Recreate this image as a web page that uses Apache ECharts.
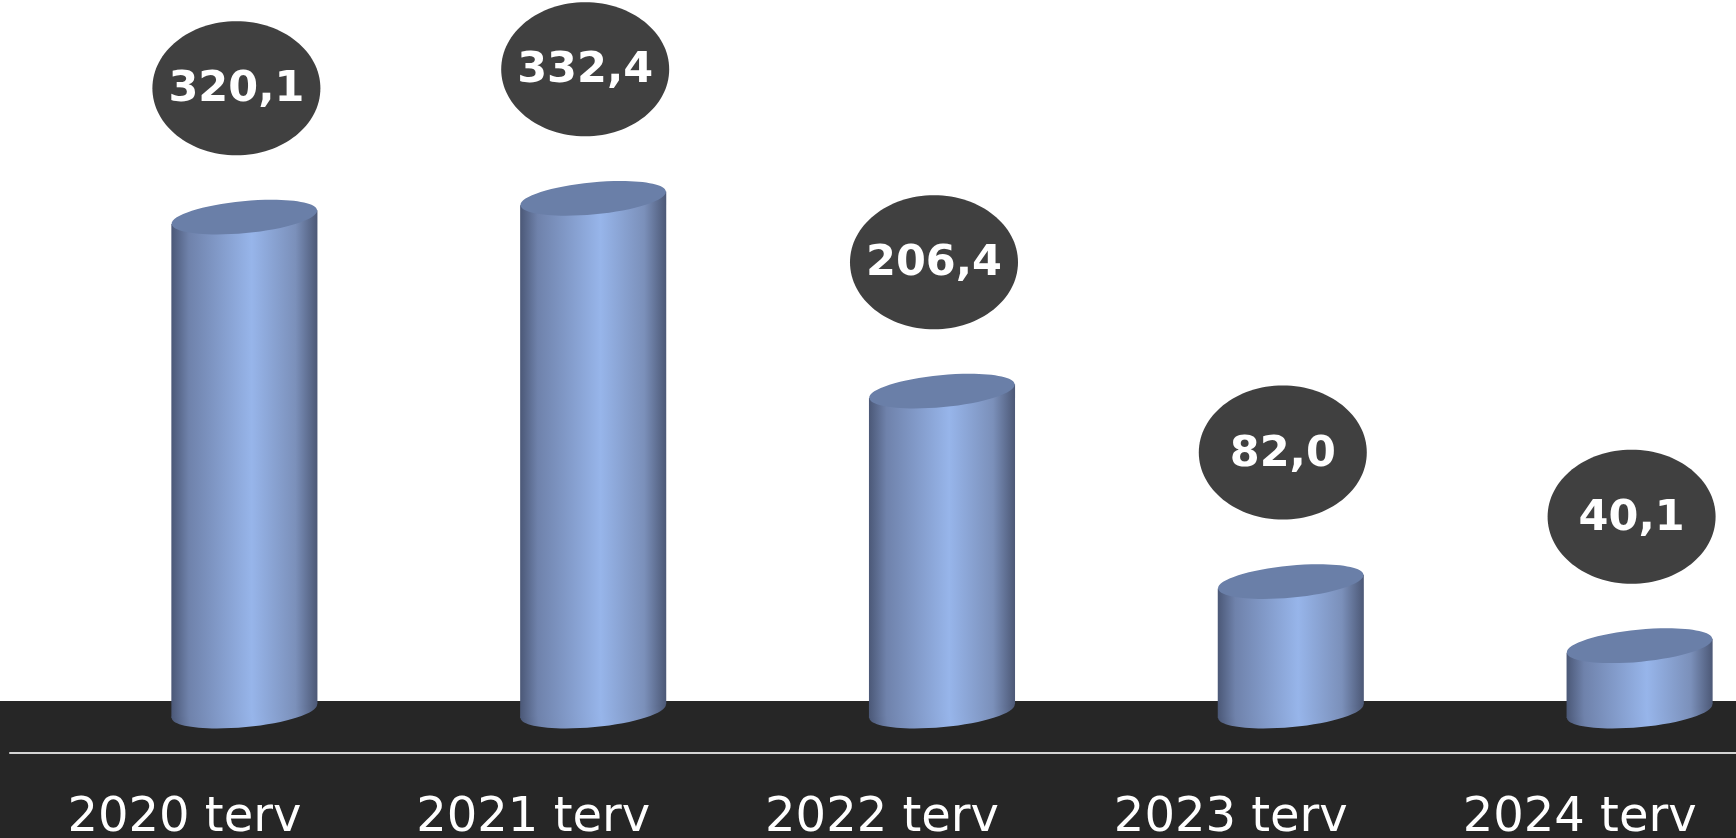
<!DOCTYPE html>
<html><head><meta charset="utf-8">
<script src="https://cdn.jsdelivr.net/npm/echarts@6/dist/echarts.min.js"></script>
<style>html,body{margin:0;padding:0;background:#fff}#c{width:1736px;height:838px}</style>
</head><body><div id="c"></div>
<script>
const categories = ['2020 terv', '2021 terv', '2022 terv', '2023 terv', '2024 terv'];
const values = [320.1, 332.4, 206.4, 82.0, 40.1];
const valueLabels = ['320,1', '332,4', '206,4', '82,0', '40,1'];

const chart = echarts.init(document.getElementById('c'), null, {renderer: 'canvas'});
const TILT = 0.095;

function bodyGradient() {
  return new echarts.graphic.LinearGradient(0, 0, 1, 0, [
    {offset: 0, color: '#4b5877'},
    {offset: 0.12, color: '#6f82ab'},
    {offset: 0.55, color: '#97b5ea'},
    {offset: 0.85, color: '#7b90ba'},
    {offset: 1, color: '#4c5876'}
  ]);
}

function renderItem(params, api) {
  const idx = params.dataIndex;
  const top = api.coord([api.value(0), api.value(1)]);
  const base = api.coord([api.value(0), 0]);
  const band = api.size([1, 0])[0];
  const cx = top[0] + band * 0.172;
  const hw = band * 0.2094;
  const ry = 16;
  const d = hw * Math.sin(TILT);
  const topY = top[1];
  const baseY = base[1] + 4;
  const bubbleX = cx - 8;
  const bubbleY = topY - 129;
  return {
    type: 'group',
    children: [
      {
        type: 'ellipse',
        shape: {cx: cx, cy: baseY, rx: hw, ry: ry},
        rotation: TILT, originX: cx, originY: baseY,
        style: {fill: bodyGradient()}
      },
      {
        type: 'polygon',
        shape: {points: [[cx - hw, topY + d], [cx + hw, topY - d], [cx + hw, baseY - d], [cx - hw, baseY + d]]},
        style: {fill: bodyGradient()}
      },
      {
        type: 'ellipse',
        shape: {cx: cx, cy: topY, rx: hw, ry: ry},
        rotation: TILT, originX: cx, originY: topY,
        style: {fill: '#6a7fa8'}
      },
      {
        type: 'ellipse',
        shape: {cx: bubbleX, cy: bubbleY, rx: 84, ry: 67},
        style: {fill: '#404040'}
      },
      {
        type: 'text',
        x: bubbleX, y: bubbleY + 2,
        style: {
          text: valueLabels[idx], fill: '#ffffff',
          fontFamily: '"DejaVu Sans", Verdana, sans-serif', fontWeight: 'bold', fontSize: 43,
          align: 'center', verticalAlign: 'middle'
        }
      }
    ]
  };
}

chart.setOption({
  backgroundColor: '#ffffff',
  animation: false,
  graphic: [{
    type: 'rect', left: 0, top: 701, z: -10,
    shape: {width: 1736, height: 137},
    style: {fill: '#262626'}
  }],
  grid: {left: 10, right: -18, top: 3, bottom: 85, outerBoundsMode: 'none', containLabel: false},
  xAxis: {
    type: 'category', data: categories, z: 10,
    axisTick: {show: false},
    axisLine: {onZero: false, lineStyle: {color: '#d4d4d4', width: 2}},
    axisLabel: {color: '#ffffff', fontSize: 48, fontFamily: '"DejaVu Sans", Verdana, sans-serif', margin: 42}
  },
  yAxis: {type: 'value', min: -30, max: 460, show: false, splitLine: {show: false}},
  series: [{
    type: 'custom', renderItem: renderItem, z: 5,
    data: values.map((v, i) => [i, v])
  }]
});
</script></body></html>
